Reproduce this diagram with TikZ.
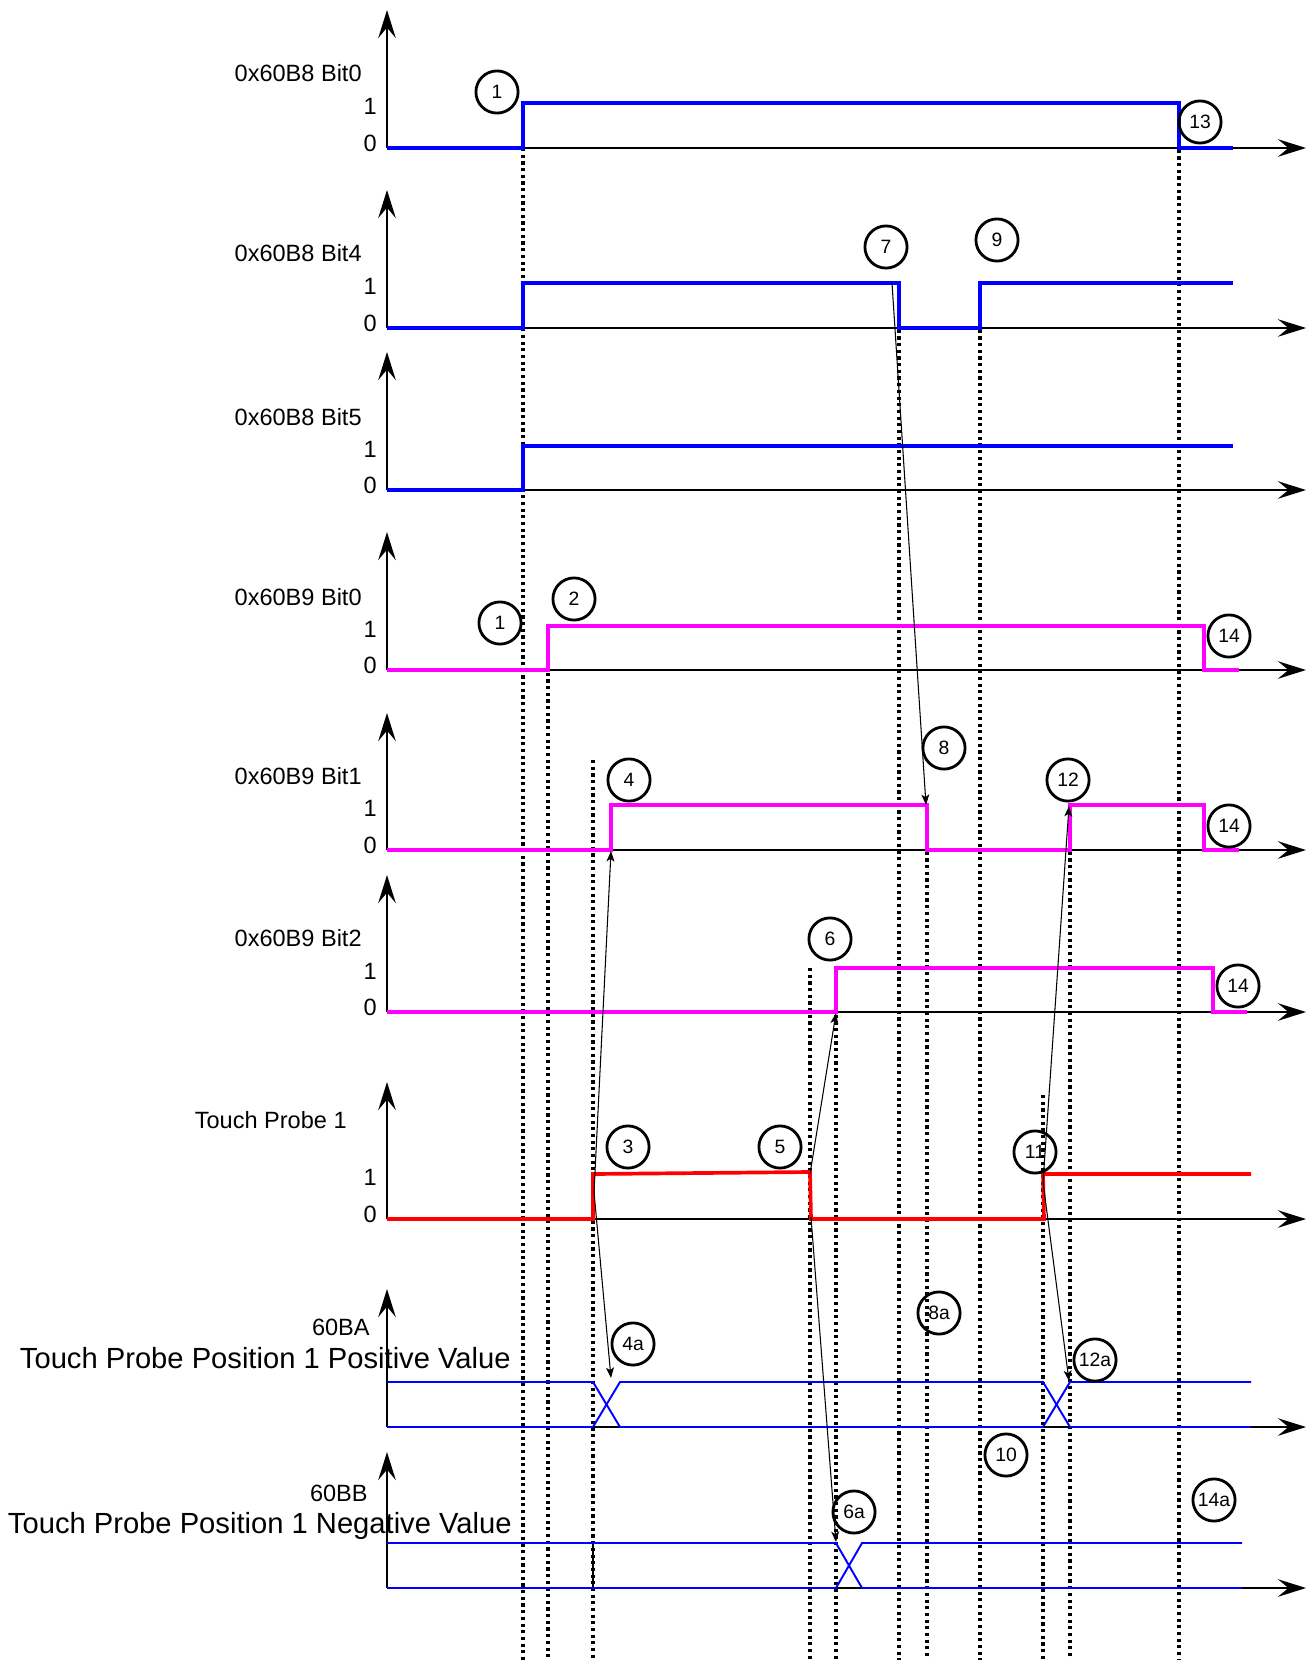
\documentclass[tikz,border=0pt]{standalone}
\usepackage{fontspec}
\setmainfont{Liberation Sans}
\usetikzlibrary{arrows.meta}

\definecolor{sigmag}{RGB}{255,0,255}

\tikzset{
  axis/.style={line width=1.1pt,-{Stealth[length=16pt,width=10pt,inset=6pt]}},
  bsig/.style={blue,line width=2.1pt},
  msig/.style={sigmag,line width=2.1pt},
  rsig/.style={red,line width=2.1pt},
  bus/.style={blue,line width=1.1pt},
  guide/.style={line width=2pt,dash pattern=on 1.8pt off 2pt},
  link/.style={line width=0.6pt,-{Stealth[length=6pt,width=4.5pt,inset=1.5pt]}},
  num/.style={circle,draw,line width=1.6pt,minimum size=24pt,inner sep=0pt,font=\fontsize{11}{12}\selectfont},
  lbl/.style={anchor=base east,inner sep=0pt,font=\fontsize{13.4}{16}\selectfont},
  biglbl/.style={anchor=base east,inner sep=0pt,font=\fontsize{16.6}{19}\selectfont},
}

\begin{document}
\begin{tikzpicture}[x=0.02cm,y=-0.02cm]
  \useasboundingbox (0,0) rectangle (1306,1660);

  % dotted guides
  \draw[guide] (523,148) -- (523,1660);
  \draw[guide] (548,626) -- (548,1660);
  \draw[guide] (593,760) -- (593,1660);
  \draw[guide] (810,968) -- (810,1660);
  \draw[guide] (836,968) -- (836,1660);
  \draw[guide] (899,283) -- (899,1660);
  \draw[guide] (927,805) -- (927,1660);
  \draw[guide] (980,283) -- (980,1660);
  \draw[guide] (1043,1095) -- (1043,1660);
  \draw[guide] (1070,805) -- (1070,1660);
  \draw[guide] (1179,103) -- (1179,1660);
  \draw[line width=0.8pt] (593,1543) -- (593,1588);

  % axes and labels
  \draw[axis] (387,148) -- (387,10);
  \draw[axis] (387,148) -- (1306,148);
  \node[lbl] (l1) at (362,81.5) {0x60B8 Bit0};
  \node[lbl] (h1) at (377,114.5) {1};
  \node[lbl] (z1) at (377,151.5) {0};

  \draw[axis] (387,328) -- (387,190);
  \draw[axis] (387,328) -- (1306,328);
  \node[lbl] (l2) at (362,261.5) {0x60B8 Bit4};
  \node[lbl] (h2) at (377,294.5) {1};
  \node[lbl] (z2) at (377,331.5) {0};

  \draw[axis] (387,490) -- (387,352);
  \draw[axis] (387,490) -- (1306,490);
  \node[lbl] (l3) at (362,425.5) {0x60B8 Bit5};
  \node[lbl] (h3) at (377,457.5) {1};
  \node[lbl] (z3) at (377,493.5) {0};

  \draw[axis] (387,670) -- (387,532);
  \draw[axis] (387,670) -- (1306,670);
  \node[lbl] (l4) at (362,605.5) {0x60B9 Bit0};
  \node[lbl] (h4) at (377,637.5) {1};
  \node[lbl] (z4) at (377,673.5) {0};

  \draw[axis] (387,850) -- (387,713);
  \draw[axis] (387,850) -- (1306,850);
  \node[lbl] (l5) at (362,784.5) {0x60B9 Bit1};
  \node[lbl] (h5) at (377,816.5) {1};
  \node[lbl] (z5) at (377,853.5) {0};

  \draw[axis] (387,1012) -- (387,875);
  \draw[axis] (387,1012) -- (1306,1012);
  \node[lbl] (l6) at (362,946.5) {0x60B9 Bit2};
  \node[lbl] (h6) at (377,979.5) {1};
  \node[lbl] (z6) at (377,1015.5) {0};

  \draw[axis] (387,1219) -- (387,1082);
  \draw[axis] (387,1219) -- (1306,1219);
  \node[lbl] (l7) at (347,1128.5) {Touch Probe 1};
  \node[lbl] (h7) at (377,1185.5) {1};
  \node[lbl] (z7) at (377,1222.5) {0};

  \draw[axis] (387,1427) -- (387,1289);
  \draw[axis] (387,1427) -- (1306,1427);
  \node[lbl] (l8) at (370,1335.5) {60BA};
  \node[biglbl] (t8) at (511,1368) {Touch Probe Position 1 Positive Value};

  \draw[axis] (387,1588) -- (387,1452);
  \draw[axis] (387,1588) -- (1306,1588);
  \node[lbl] (l9) at (368,1501.5) {60BB};
  \node[biglbl] (t9) at (512,1533) {Touch Probe Position 1 Negative Value};

  % signals
  \draw[bsig] (387,148) -- (523,148) -- (523,103) -- (1179,103) -- (1179,148) -- (1233,148);
  \draw[bsig] (387,328) -- (523,328) -- (523,283) -- (899,283) -- (899,328) -- (980,328) -- (980,283) -- (1233,283);
  \draw[bsig] (387,490) -- (523,490) -- (523,446) -- (1233,446);
  \draw[msig] (387,670) -- (548,670) -- (548,626) -- (1204,626) -- (1204,670) -- (1239,670);
  \draw[msig] (387,850) -- (611,850) -- (611,805) -- (927,805) -- (927,850) -- (1070,850) -- (1070,805) -- (1204,805) -- (1204,850) -- (1239,850);
  \draw[msig] (387,1012) -- (836,1012) -- (836,968) -- (1213,968) -- (1213,1012) -- (1247,1012);
  \draw[rsig] (387,1219) -- (593,1219) -- (593,1174) -- (810,1172) -- (811,1219) -- (1044,1219) -- (1043,1174) -- (1251,1174);
  \draw[bus] (387,1382) -- (593,1382) -- (620,1427) -- (1043,1427) -- (1070,1382) -- (1251,1382);
  \draw[bus] (387,1427) -- (593,1427) -- (620,1382) -- (1043,1382) -- (1070,1427) -- (1251,1427);
  \draw[bus] (387,1543) -- (836,1543) -- (862,1588) -- (1242,1588);
  \draw[bus] (387,1588) -- (836,1588) -- (862,1543) -- (1242,1543);

  % edge points
  \coordinate (b4fall) at (892,283);
  \coordinate (b1fall) at (926,805);
  \coordinate (tprise) at (594,1192);
  \coordinate (b1rise) at (611,851);
  \coordinate (pos4a) at (611,1378);
  \coordinate (tpfallhi) at (810,1174);
  \coordinate (tpfalllo) at (811,1217);
  \coordinate (b2rise) at (836,1013);
  \coordinate (neg6a) at (836,1542);
  \coordinate (tprise2) at (1043,1182);
  \coordinate (b1rise2) at (1069,806);
  \coordinate (pos12a) at (1069,1381);

  \draw[link] (b4fall) -- (b1fall);
  \draw[link] (tprise) -- (b1rise);
  \draw[link] (tprise) -- (pos4a);
  \draw[link] (tpfallhi) -- (b2rise);
  \draw[link] (tpfalllo) -- (neg6a);
  \draw[link] (tprise2) -- (b1rise2);
  \draw[link] (tprise2) -- (pos12a);

  % numbered events
  \node[num] (n1) at (497,92) {1};
  \node[num] (n13) at (1200,122) {13};
  \node[num] (n7) at (886,247) {7};
  \node[num] (n9) at (997,240) {9};
  \node[num] (n1b) at (500,623) {1};
  \node[num] (n2) at (574,599) {2};
  \node[num] (n14a) at (1229,636) {14};
  \node[num] (n8) at (944,748) {8};
  \node[num] (n4) at (629,780) {4};
  \node[num] (n12) at (1068,780) {12};
  \node[num] (n14b) at (1229,826) {14};
  \node[num] (n6) at (830,939) {6};
  \node[num] (n14c) at (1238,986) {14};
  \node[num] (n3) at (628,1147) {3};
  \node[num] (n5) at (780,1147) {5};
  \node[num] (n11) at (1035,1152) {11};
  \node[num] (n8a) at (939,1313) {8a};
  \node[num] (n4a) at (633,1344) {4a};
  \node[num] (n12a) at (1095,1360) {12a};
  \node[num] (n10) at (1006,1455) {10};
  \node[num] (n6a) at (854,1512) {6a};
  \node[num] (n14d) at (1214,1500) {14a};
\end{tikzpicture}
\end{document}
